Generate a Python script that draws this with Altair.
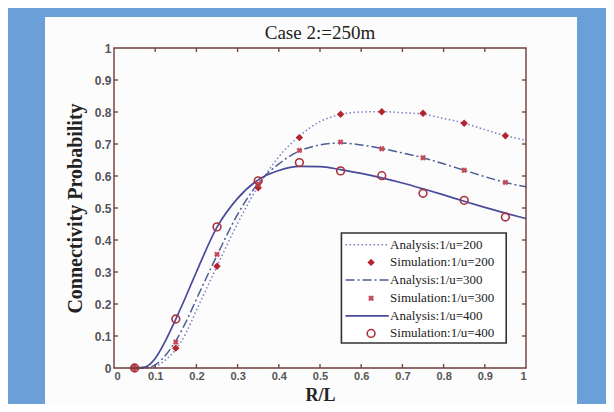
import altair as alt
import pandas as pd

# ---- data ----
ax_x = [0.05, 0.075, 0.1, 0.125, 0.15, 0.175, 0.2, 0.25, 0.3, 0.35, 0.4, 0.45,
        0.5, 0.55, 0.6, 0.65, 0.7, 0.75, 0.8, 0.85, 0.9, 0.95, 1.0]
ana_200 = [0.0, 0.0, 0.005, 0.025, 0.058, 0.11, 0.18, 0.318, 0.452, 0.568, 0.66, 0.725,
           0.77, 0.792, 0.8, 0.801, 0.798, 0.793, 0.78, 0.765, 0.745, 0.726, 0.712]
ana_300 = [0.0, 0.001, 0.01, 0.04, 0.085, 0.145, 0.215, 0.352, 0.48, 0.577, 0.638, 0.678,
           0.697, 0.703, 0.697, 0.686, 0.672, 0.657, 0.638, 0.618, 0.598, 0.58, 0.566]
ana_400 = [0.0, 0.003, 0.03, 0.085, 0.153, 0.225, 0.3, 0.44, 0.53, 0.588, 0.617, 0.63,
           0.629, 0.62, 0.608, 0.594, 0.578, 0.56, 0.541, 0.521, 0.502, 0.484, 0.467]

sim_x = [0.05, 0.15, 0.25, 0.35, 0.45, 0.55, 0.65, 0.75, 0.85, 0.95]
sim_200 = [0.0, 0.062, 0.318, 0.563, 0.72, 0.793, 0.801, 0.796, 0.765, 0.726]
sim_300 = [0.0, 0.081, 0.355, 0.575, 0.68, 0.706, 0.685, 0.657, 0.618, 0.58]
sim_400 = [0.0, 0.153, 0.441, 0.585, 0.642, 0.616, 0.601, 0.546, 0.524, 0.472]

tick_vals = [0, 0.1, 0.2, 0.3, 0.4, 0.5, 0.6, 0.7, 0.8, 0.9, 1]
inner_ticks = [0.1, 0.2, 0.3, 0.4, 0.5, 0.6, 0.7, 0.8, 0.9]

legend_labels = ["Analysis:1/u=200", "Simulation:1/u=200", "Analysis:1/u=300",
                 "Simulation:1/u=300", "Analysis:1/u=400", "Simulation:1/u=400"]
legend_rows = [0.385, 0.330, 0.275, 0.218, 0.163, 0.108]
legend_box = [0.552, 0.952, 0.078, 0.422]  # x0, x1, y0, y1
legend_line = [0.562, 0.667]
legend_marker_x = 0.624
legend_text_x = 0.67

title_text = "Case 2:=250m"

W, H = 412, 320
FRAME = "#6e3b3b"
SERIF = "Liberation Serif"

xs = alt.Scale(domain=[0, 1], nice=False)
ys = alt.Scale(domain=[0, 1], nice=False)

x_axis = alt.Axis(values=tick_vals, format="~g", domain=False, ticks=False, grid=False,
                  labelFont="Liberation Sans", labelFontWeight="bold", labelFontSize=11,
                  labelColor="#555", labelPadding=2, title="R/L", titleFont=SERIF,
                  titleFontSize=18, titleFontWeight="bold", titleColor="#222",
                  titleX=W / 2, titleY=32, titleBaseline="alphabetic", zindex=2)
y_axis = alt.Axis(values=tick_vals, format="~g", domain=False, ticks=False, grid=False,
                  labelFont="Liberation Sans", labelFontWeight="bold", labelFontSize=12,
                  labelColor="#555", labelPadding=3, title="Connectivity Probability",
                  titleFont=SERIF, titleFontSize=20, titleFontWeight="bold",
                  titleColor="#222", titleX=-39, titleY=H / 2, titleAngle=-90,
                  titleBaseline="middle", titleAlign="center", zindex=2)

def X(field="x"):
    return alt.X(f"{field}:Q", scale=xs, axis=x_axis, title="R/L")

def Y(field="y"):
    return alt.Y(f"{field}:Q", scale=ys, axis=y_axis, title="Connectivity Probability")

# background white panel
panel = alt.Chart(pd.DataFrame({"a": [0]})).mark_rect(color="#fbfcfb").encode(
    x=alt.value(-69), x2=alt.value(463), y=alt.value(-31), y2=alt.value(400))

def line_layer(vals, color, dash, width=1.5):
    df = pd.DataFrame({"x": ax_x, "y": vals})
    props = dict(color=color, strokeWidth=width, interpolate="monotone")
    if dash:
        props["strokeDash"] = dash
    return alt.Chart(df).mark_line(**props).encode(x=X(), y=Y())

l200 = line_layer(ana_200, "#7c7fc0", [1.5, 2.5])
l300 = line_layer(ana_300, "#4c5c96", [9, 3, 2, 3])
l400 = line_layer(ana_400, "#4a4a9c", None, width=1.7)

def sim_df(vals):
    return pd.DataFrame({"x": sim_x, "y": vals})

m200 = alt.Chart(sim_df(sim_200)).mark_point(shape="diamond", filled=True, size=55,
                                              color="#b3242f", opacity=1).encode(x=X(), y=Y())
m300 = alt.Chart(sim_df(sim_300)).mark_point(shape="cross", angle=45, filled=True, size=35,
                                              color="#c44a58", opacity=1).encode(x=X(), y=Y())
m400 = alt.Chart(sim_df(sim_400)).mark_point(shape="circle", filled=False, size=60,
                                              color="#a8323e", strokeWidth=1.6,
                                              opacity=1).encode(x=X(), y=Y())

# frame and inward ticks (MATLAB style)
frame = alt.Chart(pd.DataFrame({"x": [0], "x2": [1], "y": [0], "y2": [1]})).mark_rect(
    fill=None, fillOpacity=0, stroke=FRAME, strokeWidth=1.4).encode(
    x=X(), x2="x2:Q", y=Y(), y2="y2:Q")

tx = 4 / H
ty = 4 / W
tick_df = pd.DataFrame(
    [{"x": v, "x2": v, "y": 0, "y2": tx} for v in inner_ticks]
    + [{"x": v, "x2": v, "y": 1, "y2": 1 - tx} for v in inner_ticks]
    + [{"x": 0, "x2": ty, "y": v, "y2": v} for v in inner_ticks]
    + [{"x": 1, "x2": 1 - ty, "y": v, "y2": v} for v in inner_ticks]
)
ticks = alt.Chart(tick_df).mark_rule(color=FRAME, strokeWidth=1.3).encode(
    x=X(), x2="x2:Q", y=Y(), y2="y2:Q")

# legend
box = alt.Chart(pd.DataFrame({"x": [legend_box[0]], "x2": [legend_box[1]],
                              "y": [legend_box[2]], "y2": [legend_box[3]]})).mark_rect(
    fill="white", stroke="#333", strokeWidth=1.6).encode(x=X(), x2="x2:Q", y=Y(), y2="y2:Q")

def leg_line(row, color, dash, width=1.5):
    df = pd.DataFrame({"x": legend_line, "y": [legend_rows[row]] * 2})
    props = dict(color=color, strokeWidth=width)
    if dash:
        props["strokeDash"] = dash
    return alt.Chart(df).mark_line(**props).encode(x=X(), y=Y())

ll200 = leg_line(0, "#7c7fc0", [1.5, 2.5])
ll300 = leg_line(2, "#4c5c96", [9, 3, 2, 3])
ll400 = leg_line(4, "#4a4a9c", None, 1.7)

def leg_pt(row):
    return pd.DataFrame({"x": [legend_marker_x], "y": [legend_rows[row]]})

lm200 = alt.Chart(leg_pt(1)).mark_point(shape="diamond", filled=True, size=55,
                                         color="#b3242f", opacity=1).encode(x=X(), y=Y())
lm300 = alt.Chart(leg_pt(3)).mark_point(shape="cross", angle=45, filled=True, size=35,
                                         color="#c44a58", opacity=1).encode(x=X(), y=Y())
lm400 = alt.Chart(leg_pt(5)).mark_point(shape="circle", filled=False, size=60,
                                         color="#a8323e", strokeWidth=1.6,
                                         opacity=1).encode(x=X(), y=Y())

leg_text = alt.Chart(pd.DataFrame({"x": [legend_text_x] * 6, "y": legend_rows,
                                   "t": legend_labels})).mark_text(
    align="left", baseline="middle", font=SERIF, fontSize=13, color="#222").encode(
    x=X(), y=Y(), text="t:N")

title = alt.Chart(pd.DataFrame({"x": [0.5], "t": [title_text]})).mark_text(
    align="center", baseline="middle", font=SERIF, fontSize=19, color="#222").encode(
    x=X(), y=alt.value(-15), text="t:N")

chart = alt.layer(
    panel, l200, l300, l400, m200, m300, m400, frame, ticks,
    box, ll200, ll300, ll400, lm200, lm300, lm400, leg_text, title
).properties(
    width=W, height=H,
    autosize=alt.AutoSizeParams(type="none"),
    padding={"left": 106, "top": 40, "right": 80, "bottom": 36},
    background="#6b9fd8",
).configure_view(strokeWidth=0)

chart.save("out.html", embed_options={"renderer": "svg", "actions": False})
